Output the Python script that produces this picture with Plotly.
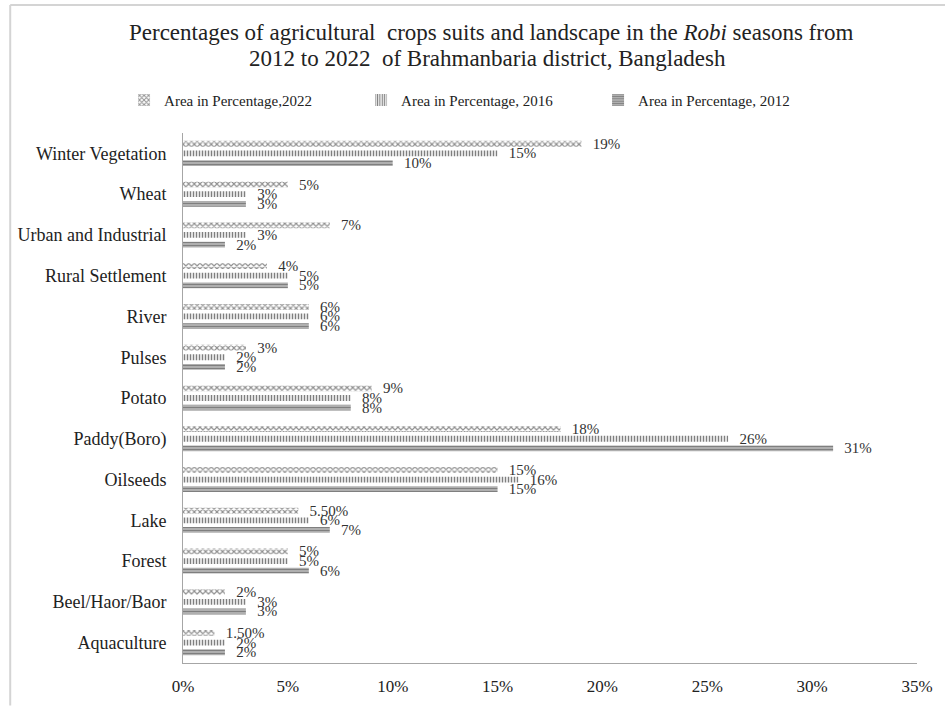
import plotly.graph_objects as go

categories = ["Winter Vegetation", "Wheat", "Urban and Industrial", "Rural Settlement",
              "River", "Pulses", "Potato", "Paddy(Boro)", "Oilseeds", "Lake", "Forest",
              "Beel/Haor/Baor", "Aquaculture"]
area_2022 = [19, 5, 7, 4, 6, 3, 9, 18, 15, 5.5, 5, 2, 1.5]
area_2016 = [15, 3, 3, 5, 6, 2, 8, 26, 16, 6, 5, 3, 2]
area_2012 = [10, 3, 2, 5, 6, 2, 8, 31, 15, 7, 6, 3, 2]
series_names = ["Area in Percentage, 2012", "Area in Percentage, 2016", "Area in Percentage,2022"]
x_ticks = [0, 5, 10, 15, 20, 25, 30, 35]
title_lines = ["Percentages of agricultural  crops suits and landscape in the <i>Robi</i> seasons from",
               "2012 to 2022  of Brahmanbaria district, Bangladesh"]

FONT = "Liberation Serif, Times New Roman, serif"
TXT = "#222222"


def fmt(v):
    s = f"{v:.2f}%" if v != int(v) else f"{int(v)}%"
    return "\u00a0\u00a0\u00a0" + s


cats_bt = categories[::-1]

fig = go.Figure()
specs = [
    (series_names[0], area_2012, dict(shape="-", fgcolor="#000000", bgcolor="white", size=3, solidity=0.75)),
    (series_names[1], area_2016, dict(shape="|", fgcolor="#000000", bgcolor="white", size=3, solidity=0.5)),
    (series_names[2], area_2022, dict(shape="x", fgcolor="#222222", bgcolor="white", size=4, solidity=0.5)),
]
for name, vals, pat in specs:
    v_bt = vals[::-1]
    fig.add_trace(go.Bar(
        y=cats_bt, x=v_bt, name=name, orientation="h",
        marker=dict(color="white", pattern=pat, line=dict(width=0)),
        text=[fmt(v) for v in v_bt], textposition="outside",
        constraintext="none", cliponaxis=False,
        textfont=dict(family=FONT, size=15, color="#333333"),
    ))

BORDER = "#d4d4d4"
fig.update_layout(
    width=945, height=708,
    margin=dict(l=183, r=27, t=133, b=41),
    paper_bgcolor="white", plot_bgcolor="white",
    barmode="group", bargap=0.29, bargroupgap=0.4,
    font=dict(family=FONT, size=15, color=TXT),
    legend=dict(
        orientation="h", x=-0.0803, xanchor="left", y=1.0618, yanchor="middle",
        traceorder="reversed", font=dict(family=FONT, size=15, color=TXT),
        itemwidth=30, entrywidth=192, entrywidthmode="pixels",
    ),
    xaxis=dict(
        range=[0, 35], tickvals=x_ticks, ticktext=[f"{t}%" for t in x_ticks],
        showgrid=False, zeroline=False, showline=True, linecolor="#a6a6a6", linewidth=1,
        ticks="", ticklabelstandoff=8, tickfont=dict(family=FONT, size=17, color=TXT),
    ),
    yaxis=dict(
        categoryorder="array", categoryarray=cats_bt,
        showgrid=False, showline=True, linecolor="#a6a6a6", linewidth=1,
        ticks="", ticklabelstandoff=12, tickfont=dict(family=FONT, size=18, color=TXT),
    ),
    annotations=[
        dict(text=title_lines[0], xref="paper", yref="paper", x=0.419, y=1.1891,
             xanchor="center", yanchor="middle", showarrow=False,
             font=dict(family=FONT, size=23, color=TXT)),
        dict(text=title_lines[1], xref="paper", yref="paper", x=0.415, y=1.1404,
             xanchor="center", yanchor="middle", showarrow=False,
             font=dict(family=FONT, size=23, color=TXT)),
    ],
    shapes=[
        dict(type="line", xref="paper", yref="paper", x0=-0.2354, x1=1.05, y0=1.2415, y1=1.2415,
             line=dict(color=BORDER, width=2), layer="below"),
        dict(type="line", xref="paper", yref="paper", x0=-0.2354, x1=-0.2354, y0=-0.08, y1=1.2415,
             line=dict(color=BORDER, width=2), layer="below"),
    ],
)

fig.write_html("out.html")
